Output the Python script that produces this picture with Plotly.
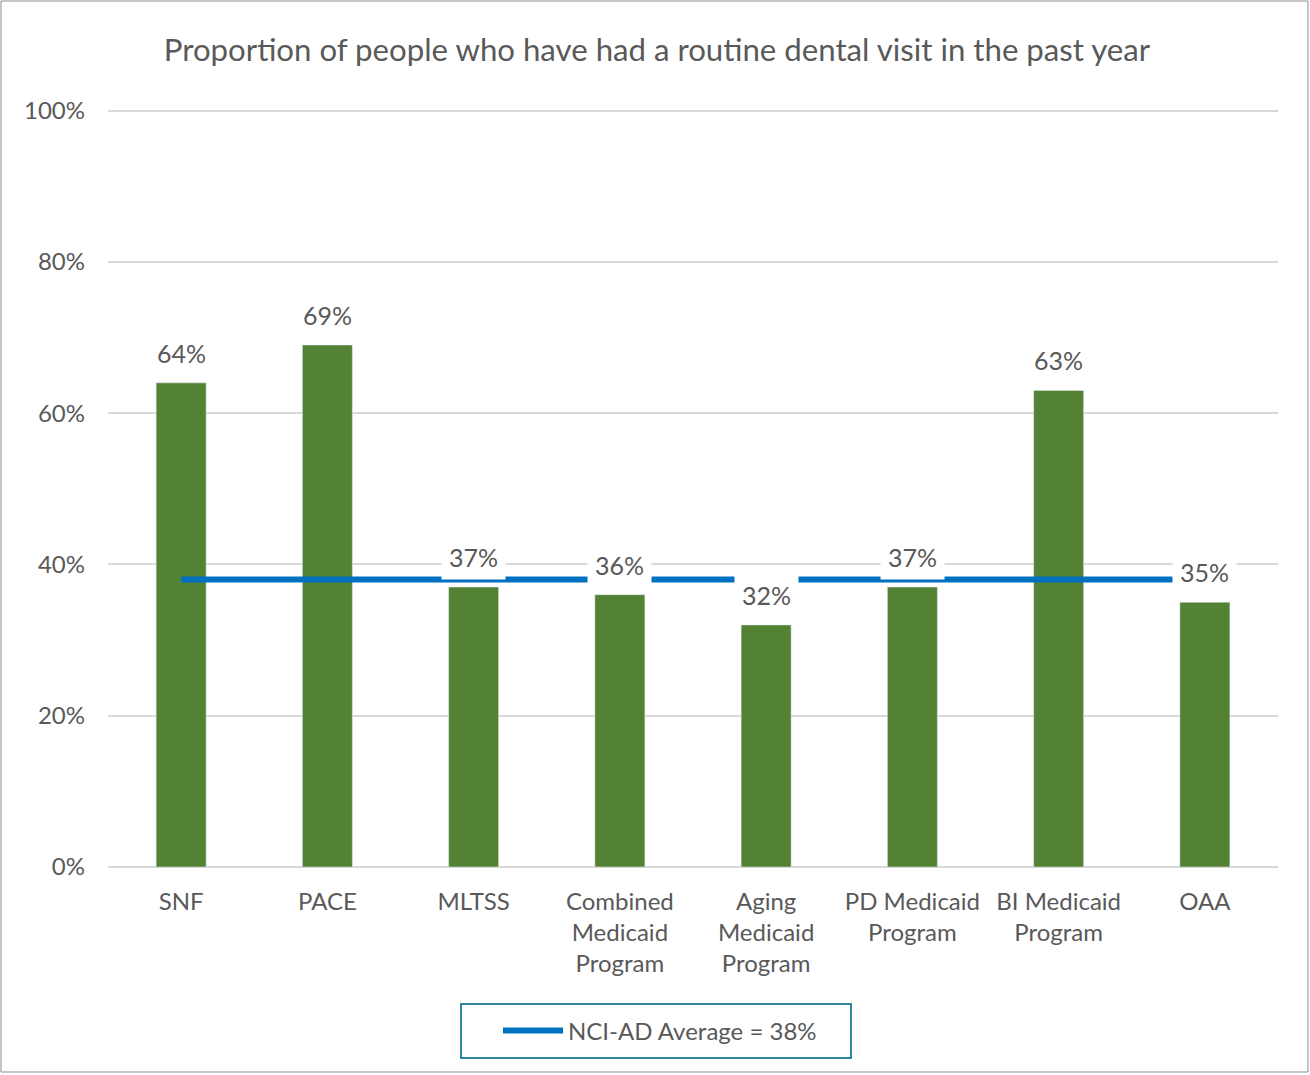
import plotly.graph_objects as go

categories = ["SNF", "PACE", "MLTSS", "Combined<br>Medicaid<br>Program", "Aging<br>Medicaid<br>Program",
              "PD Medicaid<br>Program", "BI Medicaid<br>Program", "OAA"]
values = [64, 69, 37, 36, 32, 37, 63, 35]
value_labels = ["64%", "69%", "37%", "36%", "32%", "37%", "63%", "35%"]
average = [38, 38, 38, 38, 38, 38, 38, 38]
average_name = "NCI-AD Average = 38%"
title_text = "Proportion of people who have had a routine dental visit in the past year"
y_ticks = [0, 20, 40, 60, 80, 100]
y_tick_labels = ["0%", "20%", "40%", "60%", "80%", "100%"]

FONT = "Lato"
TXT = "#595959"

fig = go.Figure()
fig.add_trace(go.Bar(x=categories, y=values, marker_color="#548235", showlegend=False,
                     hoverinfo="skip"))
fig.add_trace(go.Scatter(x=categories, y=average, mode="lines", name=average_name,
                         line=dict(color="#0070C0", width=6)))

for c, v, t in zip(categories, values, value_labels):
    fig.add_annotation(x=c, y=v, text=t, showarrow=False, yanchor="middle", yshift=30,
                       bgcolor="white", borderpad=7,
                       font=dict(family=FONT, size=25, color=TXT))

L, R, T, B = 108, 32, 109, 208
W, H = 1310, 1075
pw, ph = W - L - R, H - T - B

def px(x):
    return (x - L) / pw

def py(y):
    return (H - B - y) / ph

fig.add_shape(type="rect", xref="paper", yref="paper", x0=px(461), x1=px(851), y0=py(1058), y1=py(1004),
              line=dict(color="#31859C", width=2))
fig.add_shape(type="rect", xref="paper", yref="paper", x0=px(1), x1=px(1308), y0=py(1072), y1=py(1),
              line=dict(color="#8C8C8C", width=1))

fig.update_layout(
    width=W, height=H,
    margin=dict(l=L, r=R, t=T, b=B),
    paper_bgcolor="white", plot_bgcolor="white",
    font=dict(family=FONT, color=TXT, size=24),
    title=dict(text=title_text, x=657 / W, xanchor="center", y=1 - 50 / H, yanchor="middle",
               font=dict(family=FONT, size=31.2, color=TXT)),
    bargap=0.658,
    showlegend=True,
    legend=dict(orientation="h", x=px(660), xanchor="center", y=py(1031), yanchor="middle",
                font=dict(family=FONT, size=24, color=TXT), bgcolor="rgba(0,0,0,0)",
                itemwidth=60),
    xaxis=dict(showline=False, ticks="", tickfont=dict(family=FONT, size=24, color=TXT),
               showgrid=False, ticklabelstandoff=18),
    yaxis=dict(range=[0, 100.2], tickvals=y_ticks, ticktext=y_tick_labels, showgrid=True,
               gridcolor="#D9D9D9", gridwidth=2, zeroline=True, zerolinecolor="#D9D9D9",
               zerolinewidth=2, showline=False, ticks="",
               ticklabelstandoff=22, tickfont=dict(family=FONT, size=24, color=TXT)),
)
fig.write_html("out.html", config={"displayModeBar": False},
               post_script="document.body.style.margin='0';")
